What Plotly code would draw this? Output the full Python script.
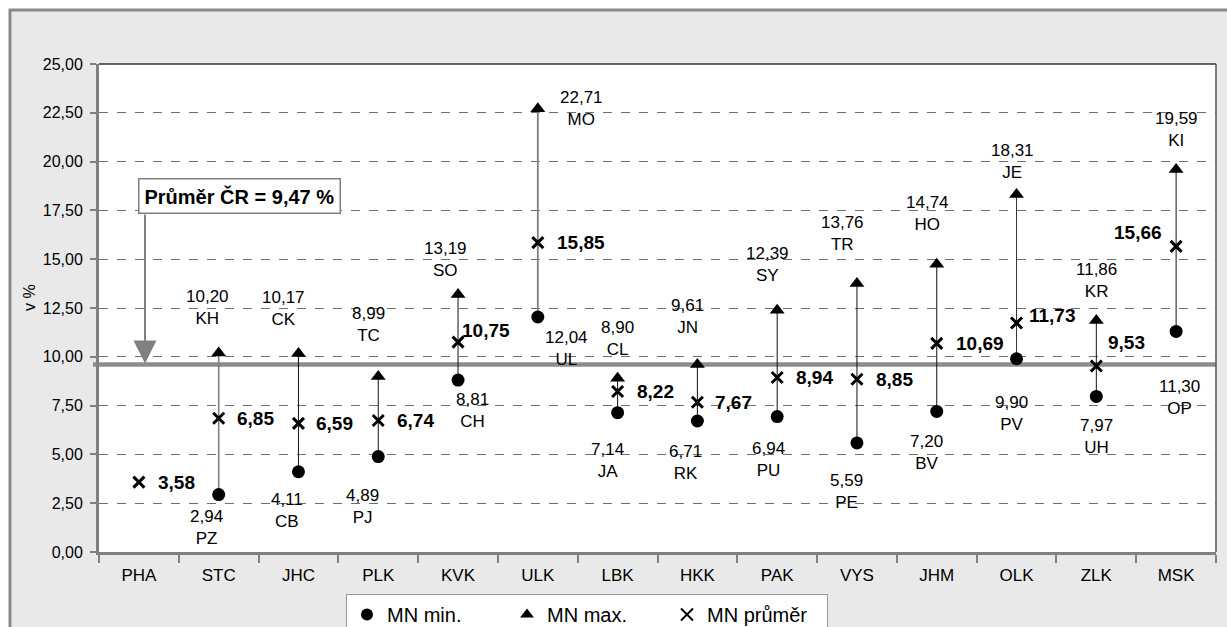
import plotly.graph_objects as go

# ---------------- data ----------------
regions = ["PHA", "STC", "JHC", "PLK", "KVK", "ULK", "LBK", "HKK", "PAK", "VYS", "JHM", "OLK", "ZLK", "MSK"]
mn_min = [None, 2.94, 4.11, 4.89, 8.81, 12.04, 7.14, 6.71, 6.94, 5.59, 7.20, 9.90, 7.97, 11.30]
mn_min_code = [None, "PZ", "CB", "PJ", "CH", "UL", "JA", "RK", "PU", "PE", "BV", "PV", "UH", "OP"]
mn_max = [None, 10.20, 10.17, 8.99, 13.19, 22.71, 8.90, 9.61, 12.39, 13.76, 14.74, 18.31, 11.86, 19.59]
mn_max_code = [None, "KH", "CK", "TC", "SO", "MO", "CL", "JN", "SY", "TR", "HO", "JE", "KR", "KI"]
mn_mean = [3.58, 6.85, 6.59, 6.74, 10.75, 15.85, 8.22, 7.67, 8.94, 8.85, 10.69, 11.73, 9.53, 15.66]
cr_avg_text = "9,47"
cr_avg_line = 9.6
y_ticks = [0, 2.5, 5, 7.5, 10, 12.5, 15, 17.5, 20, 22.5, 25]

# ---------------- label placement (pixel offsets: dx right, dy down) ----------------
max_off = [None, (-11, -45), (-15, -45), (-10, -52), (-13, -35), (44, 0), (0, -40),
           (-10, -48), (-10, -46), (-14, -50), (-9, -51), (-4, -33), (0, -40), (0, -40)]
min_off = [None, (-12, 33), (-11, 39), (-16, 50), (14, 30), (29, 32), (-10, 48),
           (-12, 41), (-9, 43), (-10, 49), (-10, 41), (-5, 55), (0, 40), (3, 66)]
mean_off = [(17, 0, "left"), (16, 0, "left"), (16, 0, "left"), (17, 0, "left"), (2, -12, "left"),
            (17, 0, "left"), (17, 0, "left"), (16, 0, "left"), (17, 0, "left"), (17, 0, "left"),
            (17, 0, "left"), (10, -8, "left"), (10, -23, "left"), (-12, -14, "right")]
conn_style = [None, ("#808080", 1.6), ("#111", 1), ("#111", 1), ("#111", 1), ("#808080", 1.8),
              ("#111", 1), ("#111", 1), ("#111", 1), ("#111", 1), ("#111", 1), ("#333", 1),
              ("#111", 1), ("#111", 1)]

FONT = "Liberation Sans, Arial, sans-serif"
W, H = 1227, 627
L, R, T, B = 99, 11, 64, 75
PW, PH = W - L - R, H - T - B


def px_to_paper_x(px):
    return (px - L) / PW


def px_to_paper_y(py):
    return (H - B - py) / PH


def fmt(v):
    return f"{v:.2f}".replace(".", ",")


fig = go.Figure()

# connecting min-max lines
for i, r in enumerate(regions):
    if mn_min[i] is None or mn_max[i] is None:
        continue
    col, wd = conn_style[i]
    fig.add_trace(go.Scatter(x=[r, r], y=[mn_min[i], mn_max[i]], mode="lines",
                             line=dict(color=col, width=wd), showlegend=False, hoverinfo="skip"))

fig.add_trace(go.Scatter(x=regions, y=mn_min, mode="markers", name="MN min.",
                         marker=dict(symbol="circle", size=13, color="black")))
fig.add_trace(go.Scatter(x=regions, y=mn_max, mode="markers", name="MN max.",
                         marker=dict(symbol="triangle-up", size=13, color="black")))
fig.add_trace(go.Scatter(x=regions, y=mn_mean, mode="markers", name="MN průměr",
                         marker=dict(symbol="x-thin-open", size=11,
                                     line=dict(color="black", width=3), color="black")))

ann = []
for i, r in enumerate(regions):
    if mn_max[i] is not None:
        dx, dy = max_off[i]
        ann.append(dict(x=r, y=mn_max[i], xref="x", yref="y", showarrow=False,
                        text=f"{fmt(mn_max[i])}<br>{mn_max_code[i]}", xshift=dx, yshift=-dy,
                        font=dict(size=17, color="black", family=FONT)))
    if mn_min[i] is not None:
        dx, dy = min_off[i]
        ann.append(dict(x=r, y=mn_min[i], xref="x", yref="y", showarrow=False,
                        text=f"{fmt(mn_min[i])}<br>{mn_min_code[i]}", xshift=dx, yshift=-dy,
                        font=dict(size=17, color="black", family=FONT)))
    dx, dy, anc = mean_off[i]
    ann.append(dict(x=r, y=mn_mean[i], xref="x", yref="y", showarrow=False,
                    text=f"<b>{fmt(mn_mean[i])}</b>", xanchor=anc, xshift=dx, yshift=-dy,
                    font=dict(size=19, color="black", family=FONT)))

# average box + arrow
ann.append(dict(x=px_to_paper_x(145), y=cr_avg_line, xref="paper", yref="y", text="",
                showarrow=True, ax=0, ay=-(552 - 19.52 * cr_avg_line - 213),
                arrowhead=2, arrowsize=2.3, arrowwidth=2,
                arrowcolor="#808080", standoff=1))
ann.append(dict(x=px_to_paper_x(239), y=px_to_paper_y(196), xref="paper", yref="paper",
                xanchor="center", yanchor="middle",
                showarrow=False, text=f"<b>Průměr ČR = {cr_avg_text} %</b>",
                font=dict(size=20, color="black", family=FONT), bgcolor="white",
                bordercolor="#808080", borderwidth=1.5, borderpad=5))
# y axis title
ann.append(dict(x=px_to_paper_x(29), y=px_to_paper_y(298), xref="paper", yref="paper",
                xanchor="center", yanchor="middle",
                showarrow=False, text="v %", textangle=-90,
                font=dict(size=16, color="black", family=FONT)))

shapes = [
    # outer gray frame
    dict(type="rect", xref="paper", yref="paper", x0=px_to_paper_x(10), x1=px_to_paper_x(1250),
         y0=px_to_paper_y(660), y1=px_to_paper_y(10), fillcolor="#e9e9e9",
         line=dict(color="#8a8a8a", width=3), layer="below"),
    # plot area white
    dict(type="rect", xref="paper", yref="paper", x0=0, x1=1, y0=0, y1=1,
         fillcolor="white", line=dict(width=0), layer="below"),
    # average line
    dict(type="line", xref="paper", yref="y", x0=px_to_paper_x(93), x1=1,
         y0=cr_avg_line, y1=cr_avg_line, line=dict(color="#8c8c8c", width=4.5), layer="below"),
    # top and right borders
    dict(type="line", xref="paper", yref="paper", x0=0, x1=1, y0=1, y1=1,
         line=dict(color="#333333", width=1.5)),
    dict(type="line", xref="paper", yref="paper", x0=1, x1=1, y0=0, y1=1,
         line=dict(color="#555555", width=1.5)),
]

fig.update_layout(
    width=W, height=H,
    margin=dict(l=L, r=R, t=T, b=B, autoexpand=False),
    paper_bgcolor="white", plot_bgcolor="rgba(0,0,0,0)",
    separators=",.",
    font=dict(family=FONT, color="black", size=16),
    showlegend=True,
    legend=dict(orientation="h", xref="container", yref="container",
                x=346 / W, y=1 - 594 / H,
                xanchor="left", yanchor="top", bgcolor="white", bordercolor="#9a9a9a",
                borderwidth=1, font=dict(size=20, family=FONT), entrywidth=115,
                entrywidthmode="pixels", itemsizing="constant"),
    xaxis=dict(type="category", categoryorder="array", categoryarray=regions,
               range=[-0.5, len(regions) - 0.5], showgrid=False, showline=True,
               linecolor="#808080", linewidth=3, ticks="outside", tickson="boundaries",
               ticklen=8, tickwidth=2, tickcolor="#808080", automargin=False,
               tickfont=dict(size=17, family=FONT), ticklabelstandoff=6, zeroline=False),
    yaxis=dict(range=[0, 25], tickvals=y_ticks, tickformat=".2f", showgrid=True,
               gridcolor="#6f6f6f", griddash="dash", gridwidth=1, showline=True,
               linecolor="#808080", linewidth=3, ticks="outside", ticklen=6, tickwidth=2,
               tickcolor="#808080", tickfont=dict(size=16, family=FONT), zeroline=False,
               ticklabelstandoff=4, automargin=False),
    annotations=ann,
    shapes=shapes,
)

fig.write_html("out.html", config={"displayModeBar": False},
               post_script="document.body.style.margin='0';document.body.style.overflow='hidden';")
